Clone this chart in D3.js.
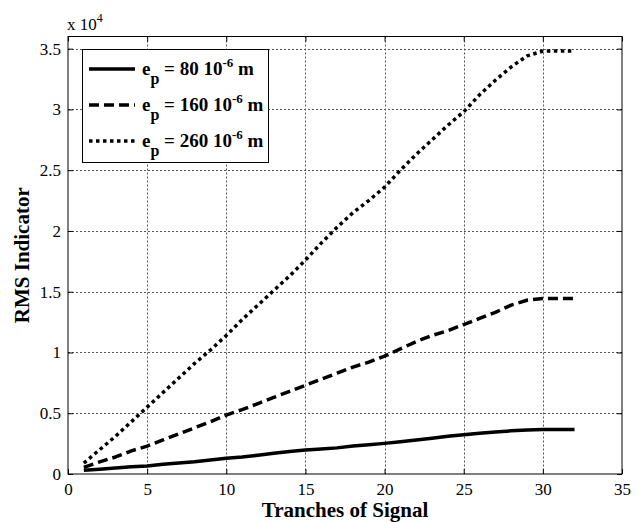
<!DOCTYPE html>
<html>
<head>
<meta charset="utf-8">
<script src="https://cdn.jsdelivr.net/npm/d3@7"></script>
<style>
  body { margin: 0; background: #fff; }
  svg { display: block; }
  svg text { font-family: "Liberation Serif", "Times New Roman", serif !important; }
</style>
</head>
<body>
<svg id="chart"></svg>
<script>
// tranche index (x) and RMS values (raw units, axis shows x 10^4)
const tranches = d3.range(1, 33);
const rms80 = [300, 400, 500, 600, 660, 800, 900, 1000, 1150, 1290, 1400, 1550, 1700, 1850, 1970, 2050,
  2150, 2300, 2400, 2520, 2650, 2800, 2950, 3100, 3230, 3350, 3450, 3550, 3630, 3670, 3670, 3670];
const rms160 = [550, 1000, 1400, 1900, 2300, 2800, 3300, 3800, 4300, 4850, 5300, 5800, 6300, 6800, 7300, 7800,
  8300, 8800, 9200, 9700, 10300, 10900, 11400, 11800, 12300, 12800, 13300, 13900, 14300, 14450, 14450, 14450];
const rms260 = [900, 2000, 3100, 4300, 5500, 6700, 7900, 9100, 10200, 11400, 12700, 13900, 15100, 16300, 17600, 19000,
  20300, 21500, 22500, 23600, 25000, 26300, 27500, 28700, 29800, 31200, 32400, 33500, 34400, 34800, 34800, 34800];

const seriesNames = ["80", "160", "260"];
const xTicks = [0, 5, 10, 15, 20, 25, 30, 35];
const yTicks = [0, 5000, 10000, 15000, 20000, 25000, 30000, 35000];

const svgWidth = 644, svgHeight = 522;
const marginLeft = 68, marginRight = 22, marginTop = 36.5, marginBottom = 48;
const width = svgWidth - marginLeft - marginRight;
const height = svgHeight - marginTop - marginBottom;

const svg = d3.select("#chart").attr("width", svgWidth).attr("height", svgHeight);

const x = d3.scaleLinear().domain([0, 35]).range([marginLeft, marginLeft + width]);
const y = d3.scaleLinear().domain([0, 36000]).range([marginTop + height, marginTop]);

// grid lines
const grid = svg.append("g")
  .attr("stroke", "#555")
  .attr("stroke-width", 1)
  .attr("stroke-dasharray", "2,2");
grid.selectAll(".gx").data(xTicks.slice(1, -1)).join("line")
  .attr("x1", d => Math.round(x(d)) + 0.5).attr("x2", d => Math.round(x(d)) + 0.5)
  .attr("y1", marginTop).attr("y2", marginTop + height);
grid.selectAll(".gy").data(yTicks.slice(1)).join("line")
  .attr("y1", d => Math.round(y(d)) + 0.5).attr("y2", d => Math.round(y(d)) + 0.5)
  .attr("x1", marginLeft).attr("x2", marginLeft + width);

// axes (ticks inward, MATLAB style)
const fmt = d => d3.format("")(d / 10000);
svg.append("g")
  .attr("transform", `translate(0,${marginTop + height})`)
  .call(d3.axisBottom(x).tickValues(xTicks).tickSizeInner(-5).tickSizeOuter(0).tickPadding(9))
  .call(g => g.selectAll("text").style("font-size", "17px").attr("fill", "#000"));
svg.append("g")
  .attr("transform", `translate(0,${marginTop})`)
  .call(d3.axisTop(x).tickValues(xTicks).tickSizeInner(-5).tickSizeOuter(0).tickFormat(""));
svg.append("g")
  .attr("transform", `translate(${marginLeft},0)`)
  .call(d3.axisLeft(y).tickValues(yTicks).tickFormat(fmt).tickSizeInner(-5).tickSizeOuter(0).tickPadding(7))
  .call(g => g.selectAll("text").style("font-size", "17px").attr("fill", "#000"));
svg.append("g")
  .attr("transform", `translate(${marginLeft + width},0)`)
  .call(d3.axisRight(y).tickValues(yTicks).tickSizeInner(-5).tickSizeOuter(0).tickFormat(""));
svg.selectAll(".domain").remove();

svg.append("rect")
  .attr("x", marginLeft).attr("y", marginTop)
  .attr("width", width).attr("height", height)
  .attr("fill", "none").attr("stroke", "#000").attr("stroke-width", 1);

// exponent label
const expo = svg.append("text").attr("x", marginLeft - 1).attr("y", 30).style("font-size", "17px");
expo.append("tspan").text("x 10");
expo.append("tspan").attr("dy", -8).style("font-size", "12px").text("4");

// axis titles
svg.append("text")
  .attr("x", marginLeft + width / 2).attr("y", 517)
  .attr("text-anchor", "middle").style("font-size", "21px").attr("font-weight", "bold")
  .text("Tranches of Signal");
svg.append("text")
  .attr("transform", `translate(29,${marginTop + height / 2}) rotate(-90)`)
  .attr("text-anchor", "middle").style("font-size", "21px").attr("font-weight", "bold")
  .text("RMS Indicator");

// lines
const styles = [
  { dash: null, w: 3.5 },
  { dash: "10,5", w: 3.5 },
  { dash: "3.5,3.5", w: 3.5 }
];
const allSeries = [rms80, rms160, rms260];
const line = d3.line().x((d, i) => x(tranches[i])).y(d => y(d));

allSeries.forEach((vals, k) => {
  svg.append("path")
    .datum(vals)
    .attr("fill", "none")
    .attr("stroke", "#000")
    .attr("stroke-width", styles[k].w)
    .attr("stroke-dasharray", styles[k].dash)
    .attr("stroke-linejoin", "round")
    .attr("d", line);
});

// legend
const legend = svg.append("g");
legend.append("rect")
  .attr("x", 82.5).attr("y", 49.5).attr("width", 186).attr("height", 113)
  .attr("fill", "#fff").attr("stroke", "#000").attr("stroke-width", 1);
seriesNames.forEach((name, k) => {
  const ly = 69 + k * 36;
  legend.append("line")
    .attr("x1", 89).attr("x2", 135).attr("y1", ly).attr("y2", ly)
    .attr("stroke", "#000").attr("stroke-width", styles[k].w)
    .attr("stroke-dasharray", styles[k].dash);
  const t = legend.append("text")
    .attr("x", 142).attr("y", ly + 6)
    .style("font-size", "19px").attr("font-weight", "bold");
  t.append("tspan").text("e");
  t.append("tspan").attr("dy", 9).style("font-size", "16px").text("p");
  t.append("tspan").attr("dy", -9).text(` = ${name} 10`);
  t.append("tspan").attr("dy", -8).style("font-size", "13px").text("-6");
  t.append("tspan").attr("dy", 8).text(" m");
});
</script>
</body>
</html>
